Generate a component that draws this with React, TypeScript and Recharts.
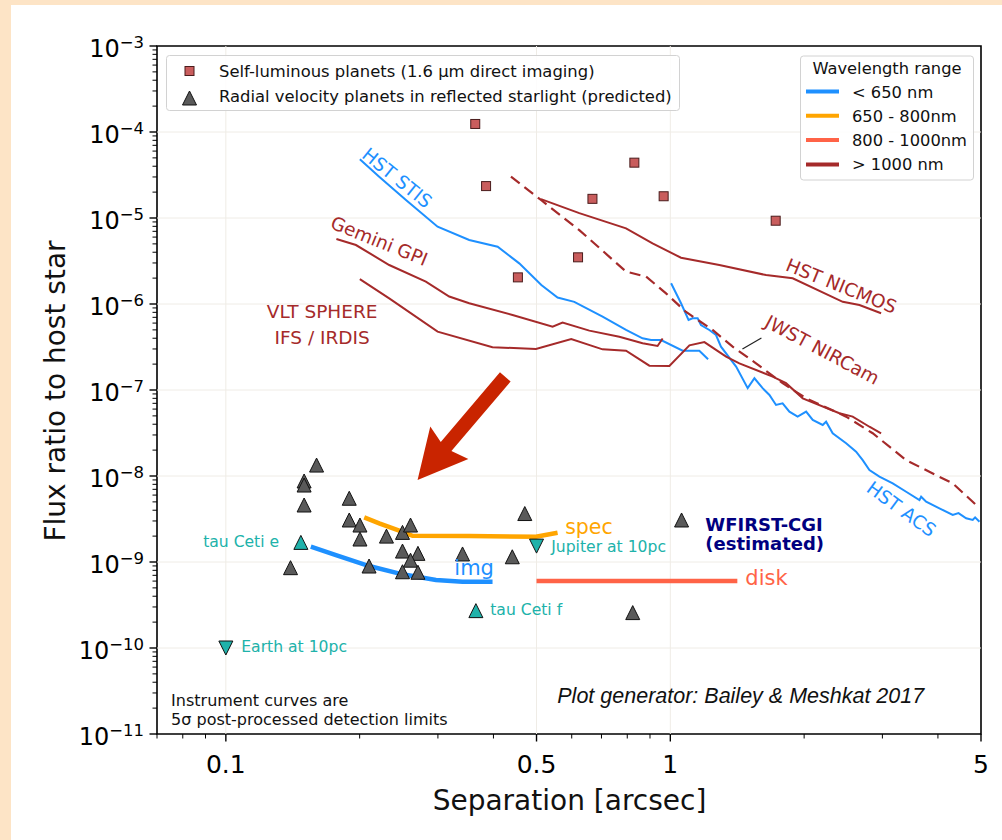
import React from 'react';
import {
  ComposedChart,
  Line,
  Scatter,
  XAxis,
  YAxis,
  ReferenceLine,
  ReferenceArea,
} from 'recharts';

// ---------------- axis definitions ----------------
const xDomain: [number, number] = [0.07, 5];
const yDomain: [number, number] = [1e-11, 1e-3];
const xMajorTicks = [0.1, 0.5, 1, 5];
const xMajorLabels = ['0.1', '0.5', '1', '5'];
const xMinorTicks = [0.07, 0.08, 0.09, 0.2, 0.3, 0.4, 0.6, 0.7, 0.8, 0.9, 2, 3, 4];
const yExponents = [-11, -10, -9, -8, -7, -6, -5, -4, -3];
const yMinorMultipliers = [2, 3, 4, 5, 6, 7, 8, 9];
const xGridValues = [0.1, 0.5, 1];

// ---------------- data (separation [arcsec], flux ratio) ----------------
const selfLuminous: [number, number][] = [
  [0.364, 1.24e-4], [0.385, 2.35e-5], [0.454, 2.04e-6], [0.62, 3.49e-6],
  [0.668, 1.67e-5], [0.83, 4.4e-5], [0.966, 1.79e-5], [1.726, 9.3e-6],
];

const rvPlanets: [number, number][] = [
  [0.16, 1.34e-8], [0.15, 8.75e-9], [0.15, 7.85e-9], [0.15, 4.6e-9],
  [0.1895, 5.51e-9], [0.1895, 3.08e-9], [0.2003, 2.69e-9], [0.2003, 1.85e-9],
  [0.2298, 2.0e-9], [0.2497, 2.21e-9], [0.2603, 2.69e-9], [0.2497, 1.34e-9],
  [0.2705, 1.26e-9], [0.2603, 1.05e-9], [0.2497, 7.7e-10], [0.2705, 7.6e-10],
  [0.21, 8.98e-10], [0.1398, 8.59e-10], [0.3408, 1.24e-9], [0.441, 1.15e-9],
  [0.4705, 3.66e-9], [1.06, 3.08e-9], [0.823, 2.58e-10],
];

const tauCetiPlanets: [number, number][] = [
  [0.1475, 1.69e-9], [0.3652, 2.72e-10],
];

const solarAnalogs: [number, number][] = [
  [0.5, 1.53e-9], [0.1, 1.0e-10],
];

const hstStis: [number, number][] = [
  [0.2002, 4.82e-5], [0.2213, 3.02e-5], [0.2542, 1.62e-5], [0.2995, 7.93e-6],
  [0.3528, 5.55e-6], [0.4088, 4.64e-6], [0.4572, 2.97e-6], [0.5126, 1.66e-6],
  [0.5576, 1.19e-6], [0.608, 1.06e-6], [0.704, 7.12e-7], [0.795, 4.99e-7],
  [0.866, 3.99e-7], [0.905, 3.81e-7], [0.953, 3.81e-7], [1.066, 2.86e-7],
  [1.162, 2.86e-7], [1.216, 2.28e-7],
];

const geminiGpi: [number, number][] = [
  [0.1773, 5.7e-6], [0.1962, 4.85e-6], [0.2331, 2.84e-6], [0.2818, 1.82e-6],
  [0.3181, 1.22e-6], [0.3528, 1.02e-6], [0.4416, 7.45e-7], [0.5434, 5.44e-7],
  [0.5722, 6.07e-7], [0.6573, 4.9e-7], [0.7677, 4.17e-7], [0.8663, 3.49e-7],
  [0.936, 3.25e-7], [0.961, 3.97e-7],
];

const vltSphere: [number, number][] = [
  [0.2002, 1.95e-6], [0.2331, 1.16e-6], [0.2995, 4.77e-7], [0.398, 3.14e-7],
  [0.4985, 3.0e-7], [0.5985, 3.92e-7], [0.704, 2.97e-7], [0.795, 2.86e-7],
  [0.897, 1.92e-7], [0.995, 1.9e-7], [1.104, 3.31e-7], [1.193, 3.61e-7],
  [1.335, 2.44e-7], [1.43, 2.04e-7], [1.699, 1.43e-7], [1.821, 1.2e-7],
  [1.986, 8.0e-8], [2.401, 5.36e-8], [2.572, 4.9e-8], [2.805, 3.74e-8],
  [2.98, 3.14e-8],
];

const hstNicmos: [number, number][] = [
  [0.5117, 1.66e-5], [0.624, 1.14e-5], [0.795, 7.59e-6], [0.912, 5.08e-6],
  [1.057, 3.45e-6], [1.289, 2.84e-6], [1.642, 2.17e-6], [1.885, 1.99e-6],
  [2.443, 1.06e-6], [2.664, 9.73e-7], [2.98, 7.8e-7],
];

const jwstNircam: [number, number][] = [
  [0.438, 3.02e-5], [0.5117, 1.62e-5], [0.624, 7.24e-6], [0.795, 2.38e-6],
  [0.882, 2.08e-6], [0.978, 1.33e-6], [1.085, 8.07e-7], [1.245, 4.99e-7],
  [1.381, 3.19e-7], [1.559, 2.04e-7], [1.789, 1.2e-7], [2.021, 8.0e-8],
  [2.486, 4.9e-8], [2.853, 3.14e-8], [3.393, 1.53e-8], [3.894, 1.07e-8],
  [4.319, 8.22e-9], [4.877, 4.6e-9],
];

const hstAcs: [number, number][] = [
  [1.004, 1.74e-6], [1.057, 1.02e-6], [1.099, 6.52e-7], [1.122, 6.82e-7],
  [1.152, 6.82e-7], [1.172, 5.7e-7], [1.224, 4.99e-7], [1.267, 4.36e-7],
  [1.3, 3.19e-7], [1.406, 1.87e-7], [1.493, 1.05e-7], [1.546, 1.37e-7],
  [1.613, 1.05e-7], [1.671, 8.75e-8], [1.729, 6.7e-8], [1.789, 7.0e-8],
  [1.853, 5.6e-8], [1.934, 4.9e-8], [2.021, 5.6e-8], [2.091, 4.48e-8],
  [2.202, 3.92e-8], [2.241, 4.28e-8], [2.319, 3.14e-8], [2.486, 2.4e-8],
  [2.618, 1.92e-8], [2.709, 1.53e-8], [2.805, 1.17e-8], [2.954, 9.82e-9],
  [3.165, 8.22e-9], [3.393, 6.56e-9], [3.635, 5.26e-9], [3.667, 5.74e-9],
  [3.763, 5.02e-9], [4.031, 4.21e-9], [4.319, 3.52e-9], [4.45, 3.7e-9],
  [4.63, 3.22e-9], [4.79, 3.08e-9], [4.85, 3.3e-9], [4.96, 2.94e-9],
];

const wfirstImg: [number, number][] = [
  [0.1553, 1.51e-9], [0.1769, 1.2e-9], [0.2101, 8.98e-10], [0.2497, 7.19e-10],
  [0.297, 6.17e-10], [0.3408, 5.9e-10], [0.3981, 5.9e-10],
];
const wfirstSpec: [number, number][] = [
  [0.2048, 3.31e-9], [0.2213, 2.82e-9], [0.2455, 2.31e-9], [0.263, 2.02e-9],
  [0.3528, 2.0e-9], [0.4985, 1.97e-9], [0.5576, 2.19e-9],
];
const wfirstDisk: [number, number][] = [
  [0.5, 6.0e-10], [1.415, 6.0e-10],
];

// annotation anchors (data coordinates)
const curveLabels = [
  { text: 'HST STIS', x: 0.2429, y: 2.92e-5 },
  { text: 'Gemini GPI', x: 0.2213, y: 5.41e-6 },
  { text: 'VLT SPHERE', x: 0.1647, y: 8.18e-7 },
  { text: 'IFS / IRDIS', x: 0.1647, y: 4.07e-7 },
  { text: 'HST NICMOS', x: 2.426, y: 1.62e-6 },
  { text: 'JWST NIRCam', x: 2.198, y: 2.92e-7 },
  { text: 'HST ACS', x: 3.311, y: 4.13e-9 },
  { text: 'spec', x: 0.58, y: 2.1e-9 },
  { text: 'img', x: 0.3266, y: 7.06e-10 },
  { text: 'disk', x: 1.475, y: 5.41e-10 },
  { text: 'WFIRST-CGI', x: 1.199, y: 2.3e-9 },
  { text: '(estimated)', x: 1.199, y: 1.38e-9 },
  { text: 'Instrument curves are', x: 0.0753, y: 2.12e-11 },
  { text: '5σ post-processed detection limits', x: 0.0753, y: 1.27e-11 },
  { text: 'Plot generator: Bailey & Meshkat 2017', x: 0.5568, y: 2.27e-11 },
];
const pointLabelAnchors: [number, number][] = [
  [0.0889, 1.49e-9], [0.3934, 2.42e-10], [0.5396, 1.32e-9], [0.1083, 8.97e-11],
];
const pointLabelTexts = ['tau Ceti e', 'tau Ceti f', 'Jupiter at 10pc', 'Earth at 10pc'];

const arrowTail = { x: 0.4253, y: 1.42e-7 };
const arrowTip = { x: 0.27, y: 8.98e-9 };
const nircamLeaderFrom = { x: 1.453, y: 3.0e-7 };
const nircamLeaderTo = { x: 1.603, y: 4.03e-7 };

// ---------------- styles ----------------
const BLUE = '#1e90ff';
const ORANGE = '#ffa500';
const TOMATO = '#ff6347';
const BROWN = '#a52a2a';
const TEAL = '#20b2aa';
const FONT = 'DejaVu Sans';
const PLOT_LEFT = 157;
const PLOT_BOTTOM = 734;

type LabelStyle = {
  color: string; size: number; angle?: number; anchor: 'start' | 'middle';
  weight?: string; italic?: boolean; family?: string; central?: boolean;
};
const labelStyles: Record<string, LabelStyle> = {
  'HST STIS': { color: BLUE, size: 18.5, angle: 39, anchor: 'middle', central: true },
  'Gemini GPI': { color: BROWN, size: 18.5, angle: 22, anchor: 'middle', central: true },
  'VLT SPHERE': { color: BROWN, size: 18.5, anchor: 'middle', central: true },
  'IFS / IRDIS': { color: BROWN, size: 18.5, anchor: 'middle', central: true },
  'HST NICMOS': { color: BROWN, size: 18.5, angle: 22, anchor: 'middle', central: true },
  'JWST NIRCam': { color: BROWN, size: 18.5, angle: 28, anchor: 'middle', central: true },
  'HST ACS': { color: BLUE, size: 18.5, angle: 36, anchor: 'middle', central: true },
  spec: { color: ORANGE, size: 20.5, anchor: 'start' },
  img: { color: BLUE, size: 21, anchor: 'start' },
  disk: { color: TOMATO, size: 21, anchor: 'start' },
  'WFIRST-CGI': { color: '#000080', size: 18, anchor: 'start', weight: 'bold' },
  '(estimated)': { color: '#000080', size: 18, anchor: 'start', weight: 'bold' },
  'Instrument curves are': { color: '#111', size: 16, anchor: 'start' },
  '5σ post-processed detection limits': { color: '#111', size: 16, anchor: 'start' },
  'Plot generator: Bailey & Meshkat 2017': {
    color: '#111', size: 21.5, anchor: 'start', italic: true, family: 'Liberation Sans',
  },
};

// ---------------- derived tables ----------------
const toPts = (arr: [number, number][]) => arr.map(([x, y]) => ({ x, y }));
const yMajorTicks = yExponents.map((e) => Number(`1e${e}`));
const yMinorTicks = yExponents
  .slice(0, -1)
  .flatMap((e) => yMinorMultipliers.map((m) => m * Number(`1e${e}`)));
const yTicks = [...yMajorTicks, ...yMinorTicks].sort((a, b) => a - b);
const xTicks = [...xMajorTicks, ...xMinorTicks].sort((a, b) => a - b);
const pointLabels = pointLabelAnchors.map(([x, y], i) => ({ x, y, text: pointLabelTexts[i] }));

const near = (a: number, b: number) => Math.abs(a - b) / Math.abs(b) < 1e-6;

// ---------------- renderers ----------------
const renderXTick = (props: any) => {
  const { x, payload } = props;
  const v = payload.value;
  const mi = xMajorTicks.findIndex((t) => near(v, t));
  const major = mi >= 0;
  return (
    <g>
      <line x1={x} x2={x} y1={PLOT_BOTTOM} y2={PLOT_BOTTOM + (major ? 7.5 : 4.5)}
        stroke="#000" strokeWidth={major ? 1.4 : 1} />
      {major && (
        <text x={x} y={PLOT_BOTTOM + 39} textAnchor="middle" fontSize={25}
          fontFamily={FONT} fill="#000">{xMajorLabels[mi]}</text>
      )}
    </g>
  );
};

const renderYTick = (props: any) => {
  const { y, payload } = props;
  const v = payload.value;
  const mi = yMajorTicks.findIndex((t) => near(v, t));
  const major = mi >= 0;
  return (
    <g>
      <line x1={PLOT_LEFT - (major ? 7.5 : 4.5)} x2={PLOT_LEFT} y1={y} y2={y}
        stroke="#000" strokeWidth={major ? 1.4 : 1} />
      {major && (
        <text x={PLOT_LEFT - 13} y={y + 11} textAnchor="end" fontSize={24}
          fontFamily={FONT} fill="#000">
          10
          <tspan dy={-9} fontSize={16.5}>{`\u2212${-yExponents[mi]}`}</tspan>
        </text>
      )}
    </g>
  );
};

const squareShape = (p: any) => (
  <rect x={p.cx - 4.5} y={p.cy - 4.5} width={9} height={9}
    fill="#c95d5d" stroke="#4a1c1c" strokeWidth={1} />
);
const triPath = (cx: number, cy: number, s: number, down: boolean) =>
  down
    ? `M${cx - s},${cy - s} L${cx + s},${cy - s} L${cx},${cy + s} Z`
    : `M${cx},${cy - s} L${cx + s},${cy + s} L${cx - s},${cy + s} Z`;
const grayTri = (p: any) => (
  <path d={triPath(p.cx, p.cy, 7, false)} fill="#5a5a5a" stroke="#111" strokeWidth={1} />
);
const tealTri = (p: any) => (
  <path d={triPath(p.cx, p.cy, 7, false)} fill={TEAL} stroke="#111" strokeWidth={1} />
);
const tealTriDown = (p: any) => (
  <path d={triPath(p.cx, p.cy, 7, true)} fill={TEAL} stroke="#111" strokeWidth={1} />
);

const renderCurveLabel = (p: any) => {
  const text: string = p.payload?.text ?? '';
  const st = labelStyles[text];
  if (!st) return <g />;
  const { cx, cy } = p;
  return (
    <text
      x={cx}
      y={cy}
      textAnchor={st.anchor}
      dominantBaseline={st.central ? 'central' : 'alphabetic'}
      fontSize={st.size}
      fontFamily={st.family ?? FONT}
      fontWeight={st.weight ?? 'normal'}
      fontStyle={st.italic ? 'italic' : 'normal'}
      fill={st.color}
      transform={st.angle ? `rotate(${st.angle} ${cx} ${cy})` : undefined}
    >
      {text}
    </text>
  );
};

const renderPointLabel = (p: any) => (
  <text x={p.cx} y={p.cy} fontSize={15.6} fontFamily={FONT} fill={TEAL}>
    {p.payload?.text}
  </text>
);

const renderArrow = (p: any) => {
  const { x1, y1, x2, y2 } = p;
  const dx = x2 - x1;
  const dy = y2 - y1;
  const len = Math.sqrt(dx * dx + dy * dy) || 1;
  const ux = dx / len;
  const uy = dy / len;
  const nx = -uy;
  const ny = ux;
  const w = 7;
  const hw = 25;
  const hl = 44;
  const bx = x2 - ux * hl;
  const by = y2 - uy * hl;
  const pts = [
    [x1 + nx * w, y1 + ny * w],
    [bx + nx * w, by + ny * w],
    [bx + nx * hw - ux * 5, by + ny * hw - uy * 5],
    [x2, y2],
    [bx - nx * hw - ux * 5, by - ny * hw - uy * 5],
    [bx - nx * w, by - ny * w],
    [x1 - nx * w, y1 - ny * w],
  ];
  return <polygon points={pts.map((q) => q.join(',')).join(' ')} fill="#c92400" />;
};

// ---------------- legend (layout only) ----------------
const wavelengthLegend = [
  { label: '< 650 nm', color: BLUE },
  { label: '650 - 800nm', color: ORANGE },
  { label: '800 - 1000nm', color: TOMATO },
  { label: '> 1000 nm', color: BROWN },
];

export default function App() {
  return (
    <div
      style={{
        position: 'fixed',
        left: 0,
        top: 0,
        width: 1002,
        height: 840,
        background: '#fde4c6',
        overflow: 'hidden',
        fontFamily: FONT,
      }}
    >
      <div style={{ position: 'absolute', left: 11, top: 5, width: 991, height: 835, background: '#fff' }} />
      <div style={{ position: 'absolute', left: 0, top: 0 }}>
        <ComposedChart width={1002} height={840} margin={{ top: 46, right: 21, bottom: 46, left: 57 }}>
          <XAxis dataKey="x" type="number" scale="log" domain={xDomain} allowDataOverflow
            ticks={xTicks} interval={0} tick={renderXTick} tickLine={false} axisLine={false}
            tickSize={0} tickMargin={0} height={60} />
          <YAxis dataKey="y" type="number" scale="log" domain={yDomain} allowDataOverflow
            ticks={yTicks} interval={0} tick={renderYTick} tickLine={false} axisLine={false}
            tickSize={0} tickMargin={0} width={100} />

          {xGridValues.map((v) => (
            <ReferenceLine key={`gx${v}`} x={v} stroke="#efece6" strokeWidth={1} />
          ))}
          {yMajorTicks.slice(1, -1).map((v) => (
            <ReferenceLine key={`gy${v}`} y={v} stroke="#efece6" strokeWidth={1} />
          ))}

          <Line data={toPts(hstStis)} dataKey="y" stroke={BLUE} strokeWidth={2} dot={false} isAnimationActive={false} />
          <Line data={toPts(hstAcs)} dataKey="y" stroke={BLUE} strokeWidth={2} dot={false} isAnimationActive={false} />
          <Line data={toPts(geminiGpi)} dataKey="y" stroke={BROWN} strokeWidth={2} dot={false} isAnimationActive={false} />
          <Line data={toPts(vltSphere)} dataKey="y" stroke={BROWN} strokeWidth={2} dot={false} isAnimationActive={false} />
          <Line data={toPts(hstNicmos)} dataKey="y" stroke={BROWN} strokeWidth={2} dot={false} isAnimationActive={false} />
          <Line data={toPts(jwstNircam)} dataKey="y" stroke={BROWN} strokeWidth={2.2} strokeDasharray="11 6" dot={false} isAnimationActive={false} />
          <Line data={toPts(wfirstImg)} dataKey="y" stroke={BLUE} strokeWidth={4.5} dot={false} isAnimationActive={false} />
          <Line data={toPts(wfirstSpec)} dataKey="y" stroke={ORANGE} strokeWidth={4.5} dot={false} isAnimationActive={false} />
          <Line data={toPts(wfirstDisk)} dataKey="y" stroke={TOMATO} strokeWidth={4.5} dot={false} isAnimationActive={false} />

          <ReferenceLine segment={[nircamLeaderFrom, nircamLeaderTo]} stroke="#222" strokeWidth={1.2} />

          <Scatter data={toPts(selfLuminous)} dataKey="y" shape={squareShape} isAnimationActive={false} />
          <Scatter data={toPts(rvPlanets)} dataKey="y" shape={grayTri} isAnimationActive={false} />
          <Scatter data={toPts(tauCetiPlanets)} dataKey="y" shape={tealTri} isAnimationActive={false} />
          <Scatter data={toPts(solarAnalogs)} dataKey="y" shape={tealTriDown} isAnimationActive={false} />

          <Scatter data={curveLabels} dataKey="y" shape={renderCurveLabel} isAnimationActive={false} />
          <Scatter data={pointLabels} dataKey="y" shape={renderPointLabel} isAnimationActive={false} />

          <ReferenceLine segment={[arrowTail, arrowTip]} shape={renderArrow} />

          <ReferenceArea x1={xDomain[0]} x2={xDomain[1]} y1={yDomain[0]} y2={yDomain[1]}
            fill="none" fillOpacity={0} stroke="#000" strokeWidth={1.6} />
        </ComposedChart>
      </div>

      <svg width={1002} height={840} style={{ position: 'absolute', left: 0, top: 0, pointerEvents: 'none' }}
        fontFamily={FONT}>
        {/* marker legend */}
        <rect x={166.5} y={55.5} width={513} height={55} rx={3} fill="#fff" fillOpacity={0.85} stroke="#d2d2d2" />
        <rect x={185} y={66.5} width={9} height={9} fill="#c95d5d" stroke="#4a1c1c" strokeWidth={1} />
        <text x={219} y={76.5} fontSize={16.4} fill="#111">Self-luminous planets (1.6 μm direct imaging)</text>
        <path d={triPath(189.5, 98, 7, false)} fill="#5a5a5a" stroke="#111" strokeWidth={1} />
        <text x={219} y={101.5} fontSize={16.4} fill="#111">Radial velocity planets in reflected starlight (predicted)</text>

        {/* wavelength legend */}
        <rect x={800.5} y={56} width={173} height={124} rx={3} fill="#fff" fillOpacity={0.85} stroke="#d2d2d2" />
        <text x={887} y={73.5} fontSize={16.3} textAnchor="middle" fill="#111">Wavelength range</text>
        {wavelengthLegend.map((item, i) => (
          <g key={item.label}>
            <line x1={806} x2={839} y1={91.5 + i * 24.3} y2={91.5 + i * 24.3} stroke={item.color} strokeWidth={4} />
            <text x={852} y={97.5 + i * 24.3} fontSize={16.3} fill="#111">{item.label}</text>
          </g>
        ))}

        {/* axis titles */}
        <text x={569.5} y={810} fontSize={28} textAnchor="middle" fill="#111">Separation [arcsec]</text>
        <text x={0} y={0} fontSize={28} textAnchor="middle" fill="#111"
          transform="translate(65 391) rotate(-90)">Flux ratio to host star</text>
      </svg>
    </div>
  );
}
